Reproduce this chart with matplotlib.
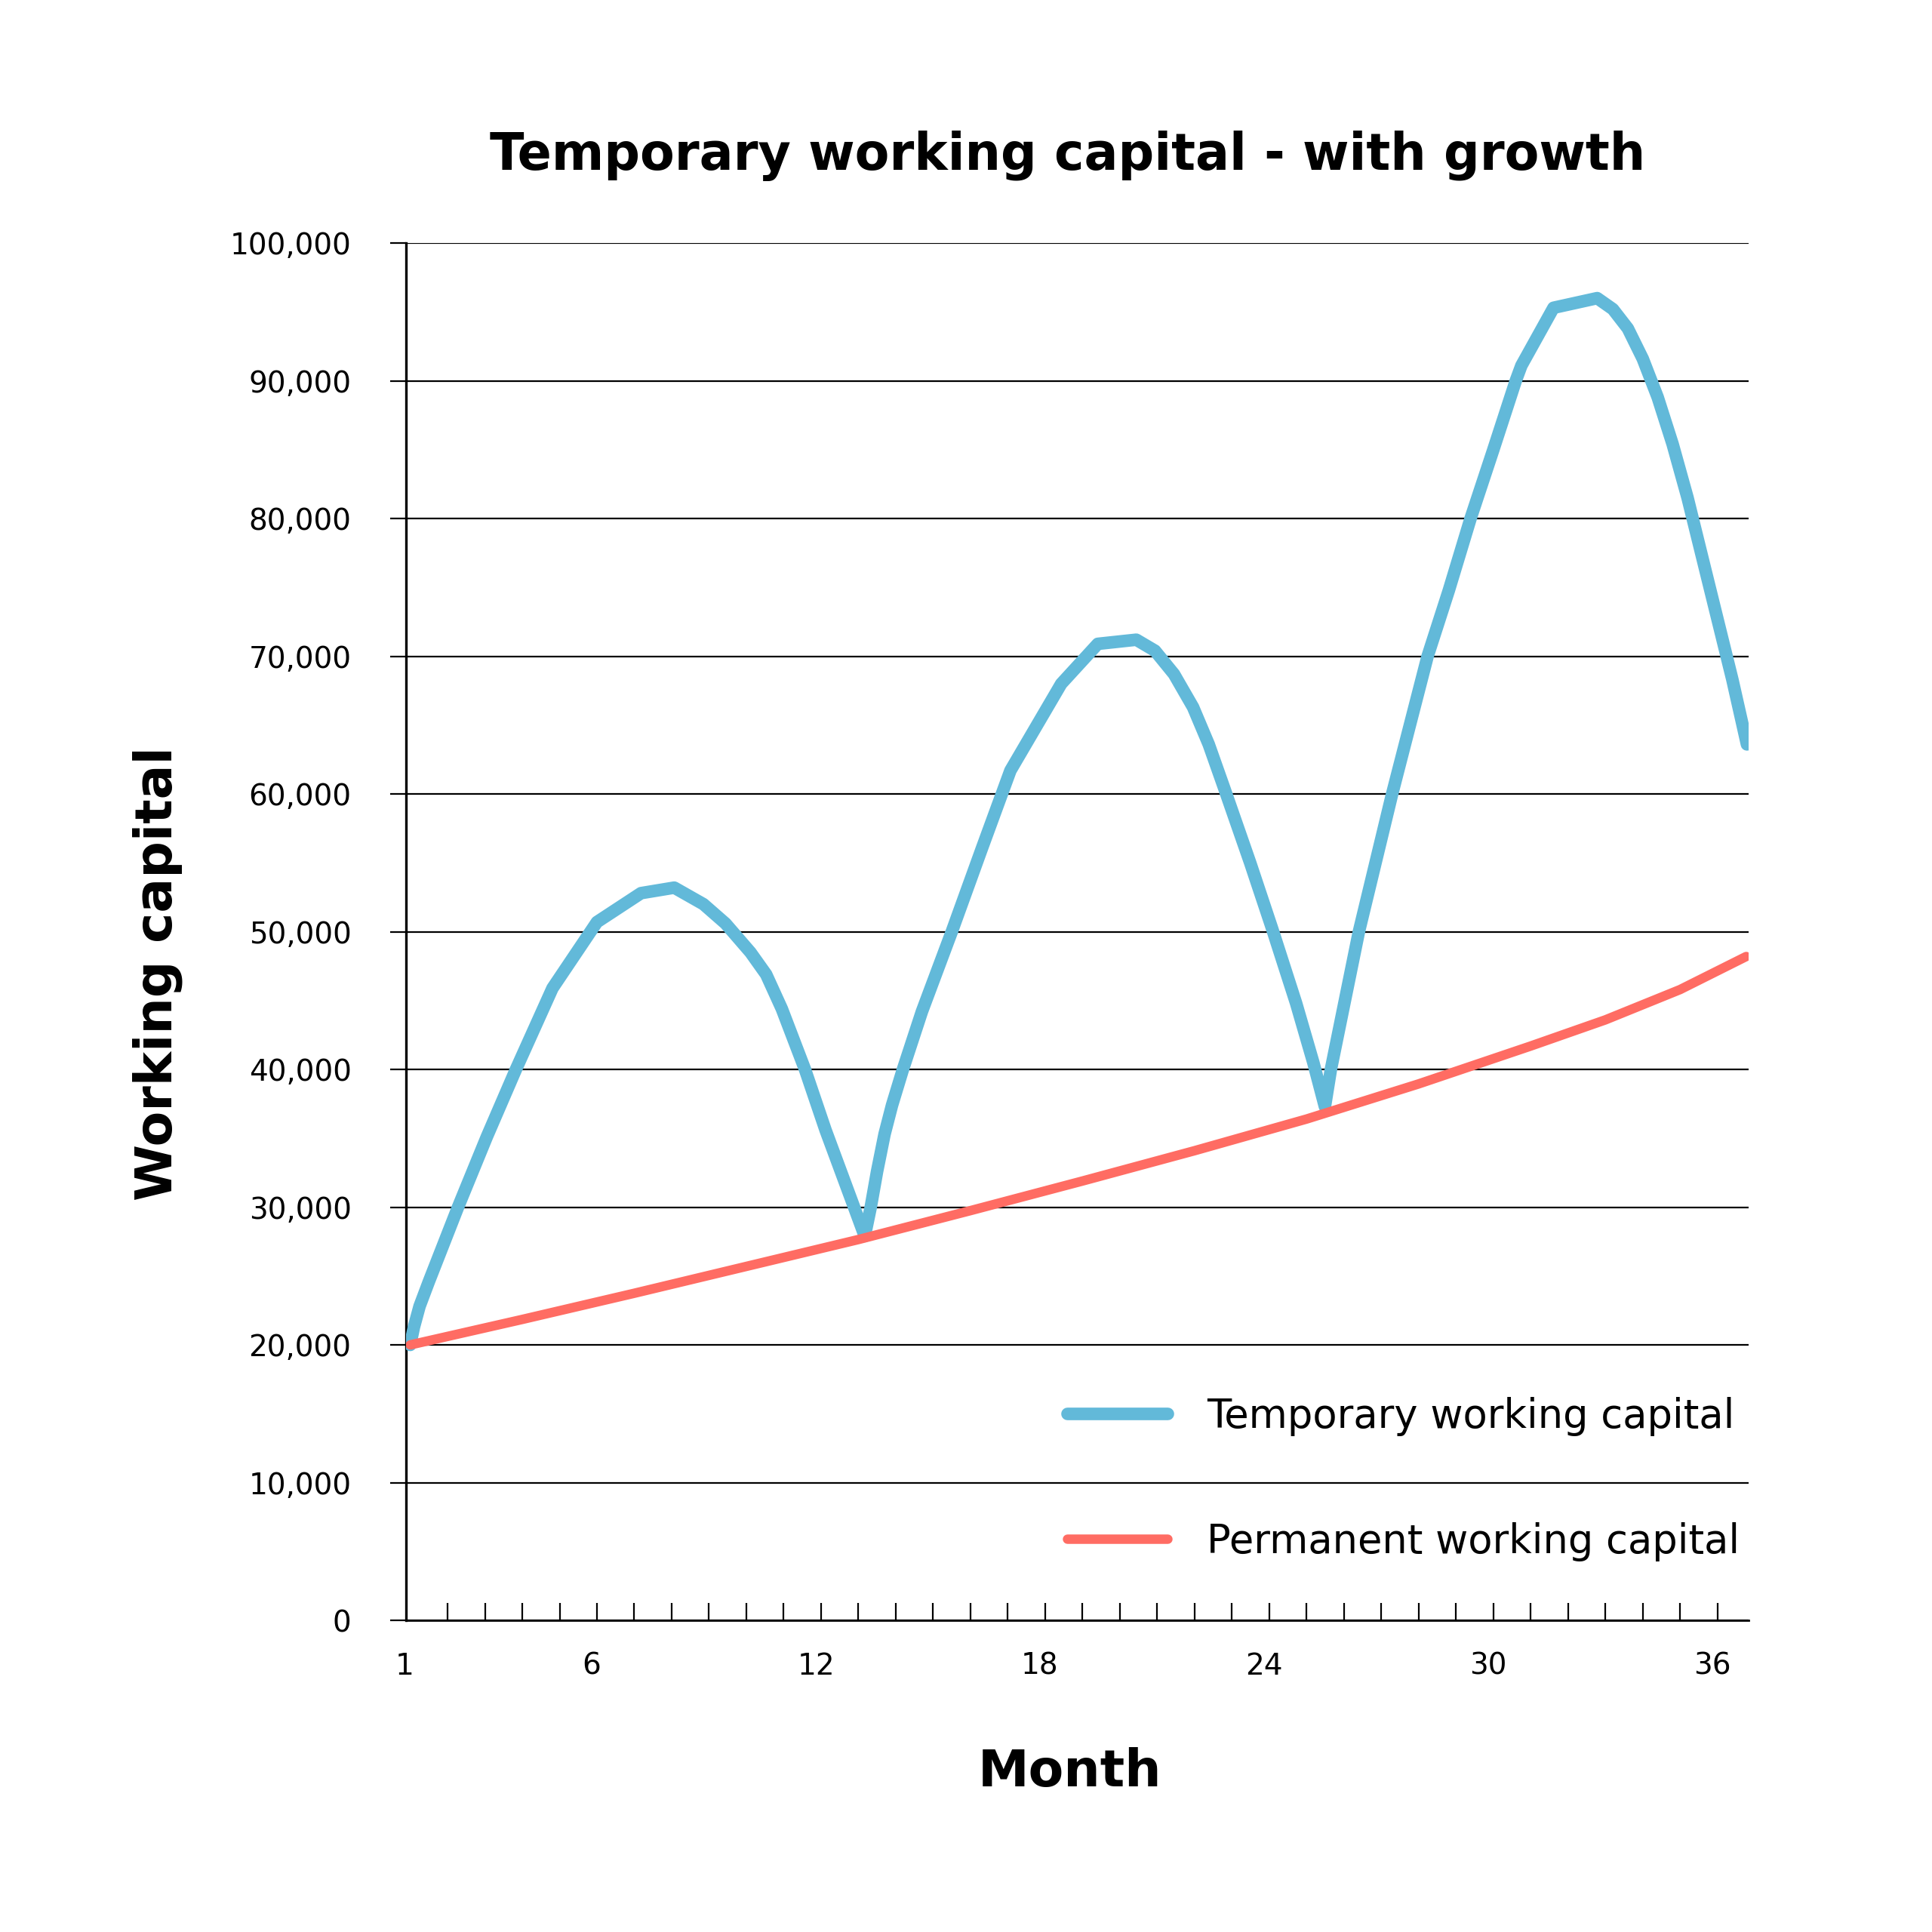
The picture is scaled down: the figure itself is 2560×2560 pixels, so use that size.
import numpy as np
import matplotlib
matplotlib.use("Agg")
import matplotlib.pyplot as plt
import matplotlib.transforms as mtransforms
from matplotlib.ticker import FuncFormatter, FixedLocator

plt.rcParams['font.family'] = ['DejaVu Sans']

# temporary working capital (month, value)
temp_months = [1.0, 1.1, 1.25, 1.5, 2.28, 3.05, 3.83, 4.81, 6.0, 7.18, 8.07, 8.85,
               9.44, 10.11, 10.53, 10.95, 11.57, 12.12, 12.83, 13.17, 13.33, 13.5,
               13.7, 13.9, 14.18, 14.7, 15.5, 16.3, 17.07, 18.43, 19.41, 20.44,
               20.94, 21.45, 21.96, 22.38, 22.81, 23.49, 24.08, 24.72, 25.18, 25.49,
               25.65, 26.4, 27.29, 28.24, 28.81, 29.39, 30.0, 30.6, 30.75, 31.61,
               32.78, 33.2, 33.6, 34.0, 34.4, 34.8, 35.2, 35.6, 36.0, 36.4, 36.79]
temp_values = [20000, 21300, 22800, 24600, 30000, 35100, 40000, 45900, 50700, 52800,
               53200, 52000, 50600, 48500, 46900, 44400, 40000, 35600, 30400, 27900,
               30000, 32600, 35300, 37400, 39900, 44200, 50000, 56000, 61700, 68000,
               70900, 71200, 70400, 68700, 66300, 63600, 60300, 55000, 50200, 44800,
               40500, 37300, 40000, 50000, 60000, 70000, 74800, 80000, 85000, 90000,
               91100, 95300, 96000, 95200, 93800, 91600, 88800, 85400, 81500, 77100,
               72700, 68300, 63600]

# permanent working capital
perm_months = [1, 4, 7, 10, 13, 16, 19, 22, 25, 28, 31, 33, 35, 36.77]
perm_values = [20000, 21850, 23750, 25700, 27650, 29750, 31900, 34100, 36400,
               38950, 41700, 43600, 45800, 48200]

label_months = [1, 6, 12, 18, 24, 30, 36]
minor_months = list(range(2, 37))

blue = '#62B9D9'
red = '#FF6C63'

fig = plt.figure(figsize=(12.8, 12.8), dpi=200)
ax = fig.add_axes([0.2102, 0.1613, 0.905 - 0.2102, 0.8742 - 0.1613])

ax.plot(temp_months, temp_values, color=blue, lw=6, solid_capstyle='round',
        label='Temporary working capital', zorder=3)
ax.plot(perm_months, perm_values, color=red, lw=4.5, solid_capstyle='round',
        label='Permanent working capital', zorder=4)

ax.set_xlim(0.89, 36.83)
ax.set_ylim(0, 100000)

ax.set_yticks(np.arange(0, 100001, 10000))
ax.yaxis.set_major_formatter(FuncFormatter(lambda v, p: f"{int(v):,}"))
ax.grid(axis='y', color='black', lw=0.8)
ax.set_axisbelow(True)
ax.tick_params(axis='y', direction='out', length=7.6, width=0.8, pad=18.5,
               labelsize=14, colors='black')

ax.xaxis.set_major_locator(FixedLocator(label_months))
ax.xaxis.set_minor_locator(FixedLocator(minor_months))
ax.xaxis.remove_overlapping_locs = False
ax.tick_params(axis='x', which='major', direction='in', length=0, pad=15, labelsize=14)
ax.tick_params(axis='x', which='minor', direction='in', length=8.3, width=0.8)
shift = mtransforms.ScaledTranslation(-2.5 / 72, 0, fig.dpi_scale_trans)
for lab in ax.get_xticklabels():
    lab.set_transform(lab.get_transform() + shift)

for s in ['top', 'right']:
    ax.spines[s].set_visible(False)
ax.spines['left'].set_linewidth(1.2)
ax.spines['bottom'].set_linewidth(1.0)

ax.set_title('Temporary working capital - with growth', fontsize=24,
             fontweight='bold', pad=35, x=0.493)
fig.text(0.0816, 0.496, 'Working capital', rotation=90, ha='center', va='center',
         fontsize=24.5, fontweight='bold')
fig.text(0.5537, 0.0828, 'Month', ha='center', va='center', fontsize=24.5,
         fontweight='bold')

leg = ax.legend(loc='lower left', bbox_to_anchor=(0.4924, 0.043), frameon=False,
                fontsize=19, handlelength=2.53, handletextpad=0.98,
                labelspacing=2.16, borderpad=0, borderaxespad=0)

fig.savefig('out.png', dpi=200, facecolor='white')
